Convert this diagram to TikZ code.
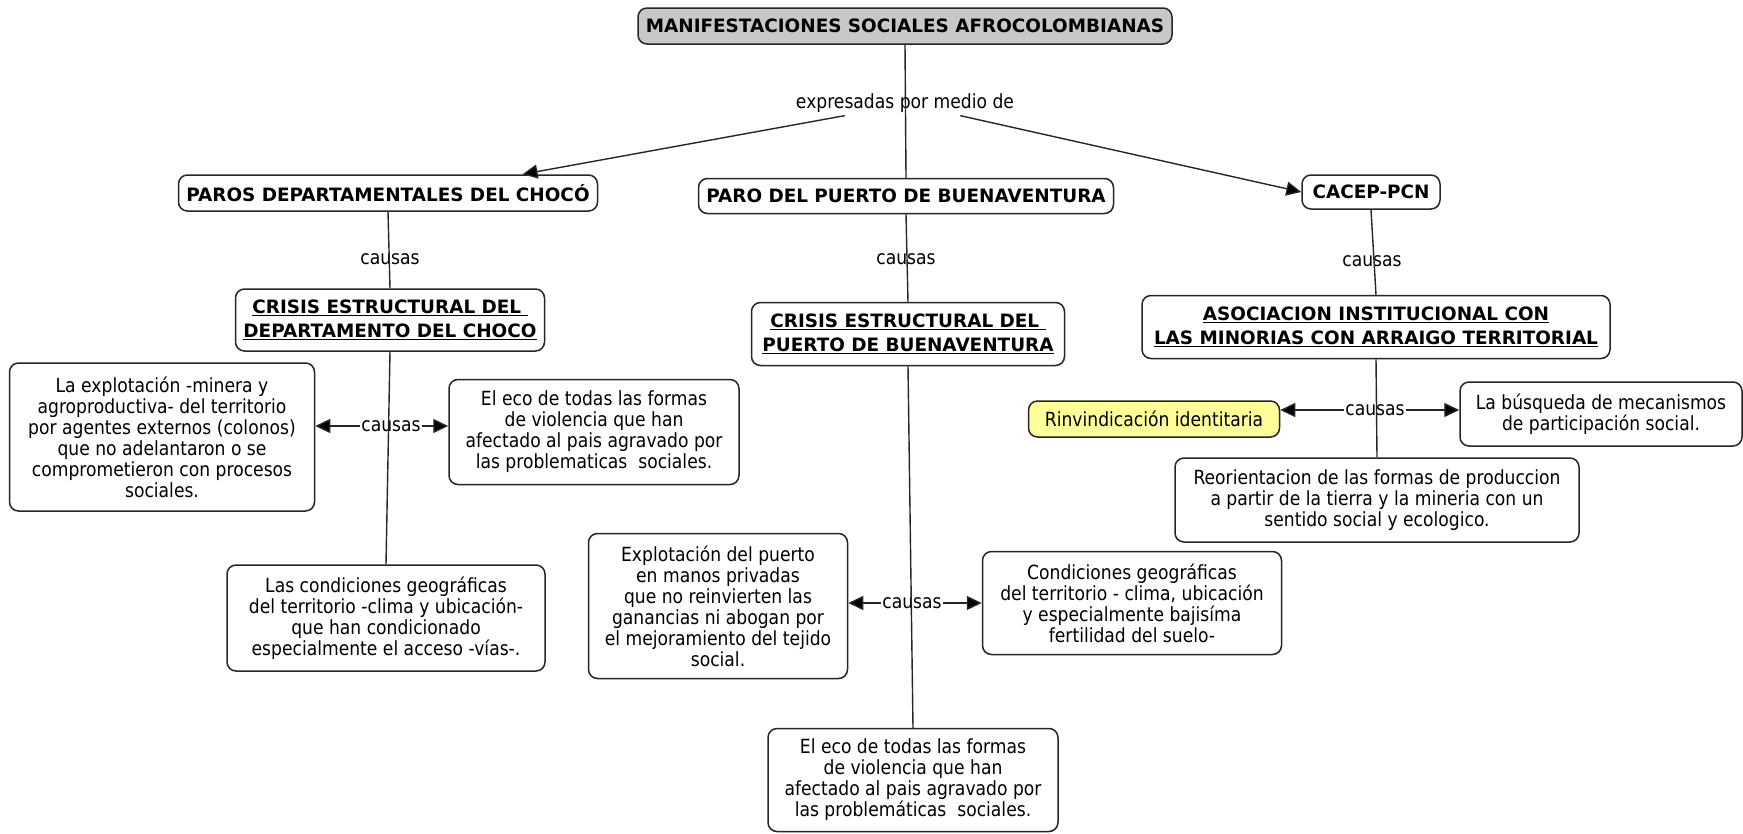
\documentclass[tikz,border=0pt]{standalone}
\usepackage{fontspec}
\setmainfont{DejaVu Sans}
\newfontfamily\bodyfont[FakeStretch=0.88]{DejaVu Sans}
\usetikzlibrary{arrows.meta,calc}
\definecolor{titlegray}{HTML}{C8C8C8}
\definecolor{paleyellow}{HTML}{FFFF99}
\tikzset{
  box/.style={draw=black!85, line width=1.5pt, rounded corners=9pt, fill=white, align=center, inner sep=0pt,
    font=\bodyfont\fontsize{19.5}{21}\selectfont},
  hbox/.style={box, font=\bfseries\fontsize{18.4}{24.5}\selectfont},
  lbl/.style={inner sep=1pt, font=\bodyfont\fontsize{19.5}{21}\selectfont},
  conn/.style={draw=black!85, line width=1.4pt},
  arr/.style={conn, -{Triangle[length=15pt,width=14pt,fill=black]}},
}
\newcommand{\ul}[1]{\underline{#1}}
\begin{document}
\begin{tikzpicture}[x=1pt,y=-1pt]
\useasboundingbox (0,0) rectangle (1743,833);
% nodes
\node[hbox, fill=titlegray, minimum width=534pt, minimum height=36pt] (title) at (905,26) {MANIFESTACIONES SOCIALES AFROCOLOMBIANAS};
\node[hbox, minimum width=419pt, minimum height=36pt] (paros) at (388,193) {PAROS DEPARTAMENTALES DEL CHOCÓ};
\node[hbox, minimum width=415pt, minimum height=35pt] (paro) at (906,196) {PARO DEL PUERTO DE BUENAVENTURA};
\node[hbox, minimum width=138pt, minimum height=34pt] (cacep) at (1371,192) {CACEP-PCN};
\node[hbox, minimum width=309pt, minimum height=62pt] (crisisC) at (390,320) {\ul{CRISIS ESTRUCTURAL DEL }\\\ul{DEPARTAMENTO DEL CHOCO}};
\node[hbox, minimum width=313pt, minimum height=63pt] (crisisB) at (908,334) {\ul{CRISIS ESTRUCTURAL DEL }\\\ul{PUERTO DE BUENAVENTURA}};
\node[hbox, minimum width=468pt, minimum height=63pt] (asoc) at (1376,327) {\ul{ASOCIACION INSTITUCIONAL CON}\\\ul{LAS MINORIAS CON ARRAIGO TERRITORIAL}};
\node[box, minimum width=305pt, minimum height=148pt] (explot) at (162,437) {La explotación -minera y\\agroproductiva- del territorio\\por agentes externos (colonos)\\que no adelantaron o se\\comprometieron con procesos\\sociales.};
\node[box, minimum width=290pt, minimum height=105pt] (ecoL) at (594,432) {El eco de todas las formas\\de violencia que han\\afectado al pais agravado por\\las problematicas~ sociales.};
\node[box, minimum width=318pt, minimum height=106pt] (condL) at (386,618) {Las condiciones geográficas\\del territorio -clima y ubicación-\\que han condicionado\\especialmente el acceso -vías-.};
\node[box, minimum width=259pt, minimum height=145pt] (explP) at (718,606) {Explotación del puerto\\en manos privadas\\que no reinvierten las\\ganancias ni abogan por\\el mejoramiento del tejido\\social.};
\node[box, minimum width=299pt, minimum height=103pt] (condG) at (1132,603) {Condiciones geográficas\\del territorio - clima, ubicación\\y especialmente bajisíma\\fertilidad del suelo-};
\node[box, minimum width=290pt, minimum height=103pt] (ecoB) at (913,780) {El eco de todas las formas\\de violencia que han\\afectado al pais agravado por\\las problemáticas~ sociales.};
\node[box, fill=paleyellow, minimum width=251pt, minimum height=36pt] (rinv) at (1154,419) {Rinvindicación identitaria};
\node[box, minimum width=282pt, minimum height=64pt] (busq) at (1601,414) {La búsqueda de mecanismos\\de participación social.};
\node[box, minimum width=404pt, minimum height=84pt] (reor) at (1377,500) {Reorientacion de las formas de produccion\\a partir de la tierra y la mineria con un\\sentido social y ecologico.};
% labels
\node[lbl] (expr) at (905,103) {expresadas por medio de};
\node[lbl] (c1) at (390,259) {causas};
\node[lbl] (c2) at (906,259) {causas};
\node[lbl] (c3) at (1372,261) {causas};
\node[lbl] (cL) at (391,426) {causas};
\node[lbl] (cM) at (912,603) {causas};
\node[lbl] (cR) at (1375,410) {causas};
% connectors
\draw[conn] (title.south) -- (paro.north);
\draw[arr] ($(expr.south west)+(50,2)$) -- ($(paros.north west)!0.82!(paros.north east)$);
\draw[arr] ($(expr.south east)+(-55,2)$) -- (cacep.west);
\draw[conn] (paros.south) -- (crisisC.north);
\draw[conn] (paro.south) -- (crisisB.north);
\draw[conn] (cacep.south) -- (asoc.north);
\draw[conn] (crisisC.south) -- (condL.north);
\draw[conn] (crisisB.south) -- (ecoB.north);
\draw[conn] (asoc.south) -- (reor.north);
\draw[arr] (cL.west) -- (cL.west -| explot.east);
\draw[arr] (cL.east) -- (cL.east -| ecoL.west);
\draw[arr] (cM.west) -- (cM.west -| explP.east);
\draw[arr] (cM.east) -- (cM.east -| condG.west);
\draw[arr] (cR.west) -- (cR.west -| rinv.east);
\draw[arr] (cR.east) -- (cR.east -| busq.west);
\end{tikzpicture}
\end{document}
